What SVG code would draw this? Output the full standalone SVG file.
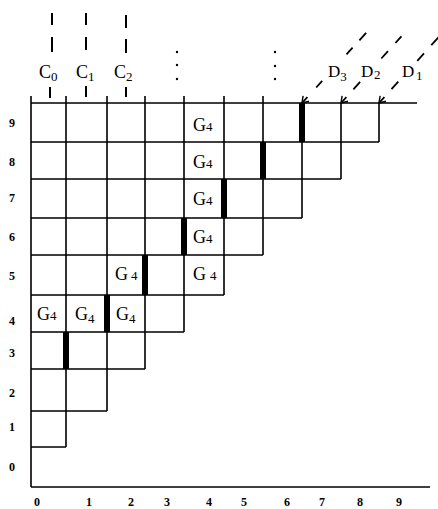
<svg xmlns="http://www.w3.org/2000/svg" width="438" height="509" viewBox="0 0 438 509">
<style>
.ln{fill:none;stroke:#000;stroke-width:1.6}
.ds{fill:none;stroke:#000;stroke-width:2}
.dg{fill:none;stroke:#000;stroke-width:1.8}
.bar{fill:#000}
.t{font-family:"Liberation Serif","Times New Roman",serif;fill:#000}
.ax{font-family:"Liberation Serif","Times New Roman",serif;font-weight:bold;font-size:12px;fill:#000;text-anchor:middle}
.g{font-size:18px}
.s{font-size:13px}
</style>
<defs>
<marker id="arr" viewBox="-7 -5 8 10" refX="0" refY="0" markerWidth="8" markerHeight="10" markerUnits="userSpaceOnUse" orient="auto-start-reverse" overflow="visible">
<path d="M-6,-4 L0,0 L-6,4" fill="none" stroke="#000" stroke-width="1.4"/>
</marker>
</defs>
<rect width="438" height="509" fill="#fff"/>
<g id="grid">
<path class="ln" d="M31,103H417M31,142H379M31,179H341M31,218H302M31,255H263M31,295H224M31,332H184M31,369H145M31,411H107M31,447H66M31,487H430M31,96V487M66,96V447M107,96V411M145,96V369M184,96V332M224,96V295M263,96V255M302,103V218M341,103V179M379,103V142"/>
</g>
<g id="bars">
<rect class="bar" x="63" y="332" width="6" height="37"/>
<rect class="bar" x="104" y="295" width="6" height="37"/>
<rect class="bar" x="142" y="255" width="6" height="40"/>
<rect class="bar" x="181" y="218" width="6" height="37"/>
<rect class="bar" x="221" y="179" width="6" height="39"/>
<rect class="bar" x="260" y="142" width="6" height="37"/>
<rect class="bar" x="299" y="103" width="6" height="39"/>
</g>
<g id="cells">
<text class="t g" x="193" y="131">G<tspan class="s">4</tspan></text>
<text class="t g" x="193" y="168">G<tspan class="s">4</tspan></text>
<text class="t g" x="193" y="205">G<tspan class="s">4</tspan></text>
<text class="t g" x="193" y="243">G<tspan class="s">4</tspan></text>
<text class="t g" x="193" y="280">G<tspan class="s" x="210">4</tspan></text>
<text class="t g" x="115" y="280">G<tspan class="s" x="131">4</tspan></text>
<text class="t g" x="37" y="320">G<tspan class="s" x="50">4</tspan></text>
<text class="t g" x="75" y="320">G<tspan class="s" dy="3">4</tspan></text>
<text class="t g" x="116" y="320">G<tspan class="s" dy="3">4</tspan></text>
</g>
<g id="axis-labels">
<text class="ax" x="12" y="127">9</text>
<text class="ax" x="12" y="166">8</text>
<text class="ax" x="12" y="202">7</text>
<text class="ax" x="12" y="241">6</text>
<text class="ax" x="12" y="280">5</text>
<text class="ax" x="12" y="325">4</text>
<text class="ax" x="12" y="357">3</text>
<text class="ax" x="12" y="397">2</text>
<text class="ax" x="12" y="431">1</text>
<text class="ax" x="12" y="471">0</text>
<text class="ax" x="37" y="506">0</text>
<text class="ax" x="89" y="506">1</text>
<text class="ax" x="131" y="506">2</text>
<text class="ax" x="167" y="506">3</text>
<text class="ax" x="209" y="506">4</text>
<text class="ax" x="244" y="506">5</text>
<text class="ax" x="287" y="506">6</text>
<text class="ax" x="322" y="506">7</text>
<text class="ax" x="360" y="506">8</text>
<text class="ax" x="399" y="506">9</text>
</g>
<g id="columns">
<text class="t g" x="39" y="78">C<tspan class="s" dy="3">0</tspan></text>
<text class="t g" x="76" y="78">C<tspan class="s" dy="3">1</tspan></text>
<text class="t g" x="114" y="78">C<tspan class="s" dy="3">2</tspan></text>
<circle cx="177" cy="52" r="1.2"/>
<circle cx="177" cy="65" r="1.2"/>
<circle cx="177" cy="79" r="1.2"/>
<circle cx="275" cy="52" r="1.2"/>
<circle cx="275" cy="66" r="1.2"/>
<circle cx="275" cy="79" r="1.2"/>
<text class="t" font-size="17" x="328" y="77">D<tspan font-size="13" dy="4">3</tspan></text>
<text class="t" font-size="17" x="361" y="77">D<tspan font-size="13" x="374" dy="2">2</tspan></text>
<text class="t" font-size="17" x="402" y="77">D<tspan font-size="13" x="416" dy="3">1</tspan></text>
</g>
<g id="connectors">
<path class="ds" d="M52,13V25M52,37V52M50,87V98M86,13V25M86,37V50M86,86V97M126,15V28M126,39V53M126,87V97"/>
<path class="dg" marker-start="url(#arr)" d="M302,103L307.4,97.1M316.2,87.5L322.2,80.9M346.5,54.3L352.6,47.6M359.4,40.3L366.1,32.9"/>
<path class="dg" marker-start="url(#arr)" d="M341,103L346.4,97.1M353.4,89.3L360.1,81.9M381.3,58.5L388,51.1M395.4,43L401.4,36.3"/>
<path class="dg" marker-start="url(#arr)" d="M379,103L384.4,97.1M391.5,89.1L398.3,81.7M417.3,60.8L424,53.4M431.3,45.2L439.4,36.3"/>
</g>
</svg>
